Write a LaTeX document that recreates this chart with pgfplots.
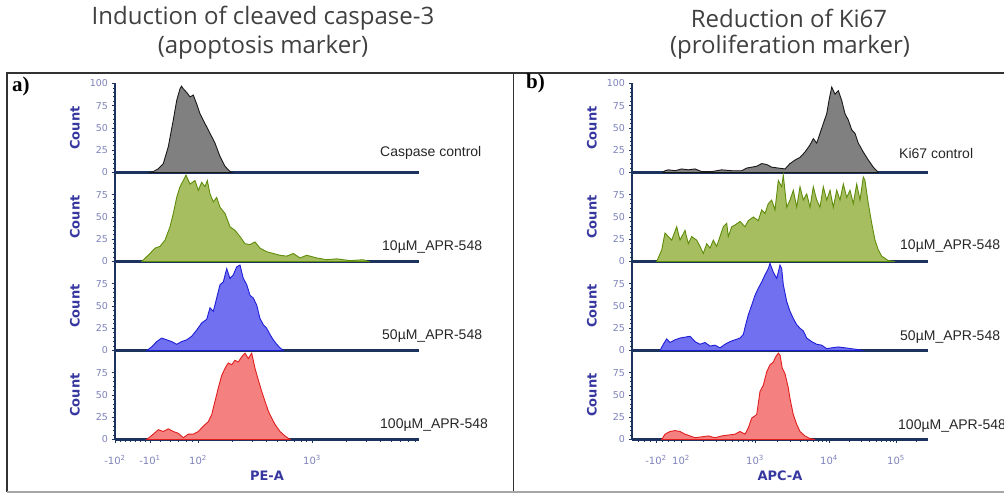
\documentclass[border=0pt]{standalone}
\usepackage{pgfplots}
\pgfplotsset{compat=1.18}
\usepackage{fontspec}
\setmainfont{Liberation Sans}
\newfontfamily\titlefont{Open Sans}
\newfontfamily\axfont{DejaVu Sans}
\newfontfamily\panelfont{Liberation Serif}
\definecolor{navy}{RGB}{28,50,95}
\definecolor{ticklab}{RGB}{125,130,185}
\definecolor{lab}{RGB}{55,55,160}
\definecolor{gfill}{RGB}{128,128,128}
\definecolor{gline}{RGB}{25,25,25}
\definecolor{grfill}{RGB}{166,190,96}
\definecolor{grline}{RGB}{95,140,10}
\definecolor{bfill}{RGB}{112,112,240}
\definecolor{bline}{RGB}{30,30,215}
\definecolor{rfill}{RGB}{245,128,128}
\definecolor{rline}{RGB}{225,30,30}
\definecolor{framec}{RGB}{50,50,50}
\pgfplotsset{
  hist/.style={
    scale only axis, height=89pt, ymin=0, ymax=100,
    axis x line*=bottom, axis y line*=left,
    axis line style={navy, line width=2.1pt},
    every tick/.style={navy, line width=0.7pt},
    tick align=outside,
    major tick length=3.5pt, minor tick length=2pt,
    ytick={0,25,50,75}, minor y tick num=4,
    yticklabel style={font=\axfont\fontsize{9.5}{10}\selectfont, text=ticklab},
    xticklabel style={font=\axfont\fontsize{10}{11}\selectfont, text=ticklab, yshift=-9pt},
    /pgf/number format/assume math mode=true,
    xtick=\empty,
    ylabel={Count},
    ylabel style={at={(axis description cs:0,0.5)}, anchor=center, rotate=0, yshift=40pt,
      font=\axfont\bfseries\fontsize{13}{14}\selectfont, text=lab},
    xlabel style={at={(axis description cs:0.5,0)}, anchor=center, yshift=-36.5pt,
      font=\axfont\bfseries\fontsize{13}{14}\selectfont, text=lab},
  },
  pa/.style={hist, width=304pt, xmin=115, xmax=419},
  pb/.style={hist, width=296pt, xmin=632, xmax=928},
}
\begin{document}
\begin{tikzpicture}[x=1pt,y=1pt]
\useasboundingbox (0,0) rectangle (1004,493);
% frame
\draw[framec, line width=2pt] (6.5,1.5) -- (6.5,420) -- (1004,420);
\draw[framec, line width=1.6pt] (513.5,1.5) -- (513.5,420);
\draw[black!35, line width=1.5pt] (6.5,1.2) -- (1004,1.2);
% titles
\node[font=\titlefont\fontsize{24}{26}\selectfont, text=black!75] at (263,475) {Induction of cleaved caspase-3};
\node[font=\titlefont\fontsize{24}{26}\selectfont, text=black!75] at (263,445.5) {(apoptosis marker)};
\node[font=\titlefont\fontsize{24}{26}\selectfont, text=black!75] at (789,475) {Reduction of Ki67};
\node[font=\titlefont\fontsize{24}{26}\selectfont, text=black!75] at (790,445.5) {(proliferation marker)};
\node[font=\panelfont\bfseries\fontsize{21}{22}\selectfont, anchor=west, inner sep=0pt] at (12,407) {a)};
\node[font=\panelfont\bfseries\fontsize{21}{22}\selectfont, anchor=west, inner sep=0pt] at (526,410) {b)};

% ===== panel a =====
\begin{axis}[pa, at={(115pt,320.5pt)}, anchor=south west, ytick={0,25,50,75,100}]
\addplot[fill=gfill, draw=gline, line width=0.9pt] coordinates {
(150,0) (153.3,1) (158,4) (163.3,10) (168.3,29) (173.3,59) (176.7,81) (180,94) (181.5,97) (183.3,94) (186.7,90) (190,85) (193.3,87)
(196.7,77) (200,66) (205,55) (210,44) (215,33) (220,18) (225,7) (230,1) (232,0)} \closedcycle;
\end{axis}
\begin{axis}[pa, at={(115pt,231.5pt)}, anchor=south west]
\addplot[fill=grfill, draw=grline, line width=0.9pt] coordinates {
(141.7,0) (150,9) (155,15) (160,17) (165,24) (170,39) (173.3,54) (176.7,72) (180,84) (183.3,91) (186,97) (190,87)
(195,91) (198.3,80) (201.7,89) (205,84) (207.3,91) (210,76) (213.3,67) (216.7,72) (220,61) (225,54) (230,39)
(235,35) (240,28) (245,20) (250,19) (255,22) (260,15) (266.7,11) (273.3,9) (280,7) (286.7,6) (293.3,9) (300,4)
(306.7,7) (316.7,4) (326.7,2) (336.7,3) (350,1) (363.3,2) (368.3,0)} \closedcycle;
\end{axis}
\begin{axis}[pa, at={(115pt,142.5pt)}, anchor=south west]
\addplot[fill=bfill, draw=bline, line width=0.9pt] coordinates {
(146.7,0) (151.7,4) (156.7,10) (161.7,14) (166.7,12) (171.7,10) (176.7,7) (181.7,10) (186.7,12) (191.7,16)
(196.7,23) (201.7,31) (206.7,35) (210,48) (213.3,44) (216.7,59) (220,74) (223.3,77) (226.7,92) (230,81)
(233.3,85) (236.7,94) (240,96) (243.3,81) (246.7,74) (250,62) (253.3,59) (256.7,51) (260,36) (263.3,29)
(266.7,25) (270,18) (273.3,12) (276.7,7) (280,3) (283.3,0)} \closedcycle;
\end{axis}
\begin{axis}[pa, at={(115pt,53.5pt)}, anchor=south west, xlabel={PE-A},
  xtick={115,150,198,312},
  xticklabels={{-10\textsuperscript{2}},{-10\textsuperscript{1}},{10\textsuperscript{2}},{10\textsuperscript{3}}},
  minor xtick={120,125,130,135,140,145,160,170,178,186,192,232.3,252.4,266.6,277.7,286.7,294.3,300.9,306.8,346.3,366.4,380.6,391.7,400.7,408.3,414.9}]
\addplot[fill=rfill, draw=rline, line width=0.9pt] coordinates {
(146.7,0) (153.3,6) (158.3,11) (163.3,9) (168.3,12) (173.3,9) (178.3,7) (183.3,2) (188.3,6) (193.3,6) (198.3,9)
(203.3,15) (208.3,20) (211.7,28) (215,43) (218.3,58) (221.7,72) (225,80) (228.3,86) (231.7,84) (235,89)
(238.3,87) (241.7,93) (245,97) (248.3,91) (251.7,97) (255,80) (258.3,67) (261.7,54) (265,43) (268.3,32)
(271.7,24) (275,17) (280,9) (285,4) (290,0)} \closedcycle;
\end{axis}

% ===== panel b =====
\begin{axis}[pb, at={(632pt,320.5pt)}, anchor=south west, ytick={0,25,50,75,100}]
\addplot[fill=gfill, draw=gline, line width=0.9pt] coordinates {
(663,0) (665,2) (668.3,3) (675,2) (681.7,4) (688.3,3) (695,4) (701.7,1) (711.7,1) (721.7,3) (731.7,2) (741.7,2)
(746.7,5) (751.7,6) (756.7,7) (761.7,10) (766.7,9) (771.7,6) (778.3,5) (785,4) (790,10) (795,14) (800,17)
(805,23) (810,31) (813.3,38) (816.7,33) (820,44) (823.3,55) (826.7,66) (829,81) (831.7,96) (835,88) (838.3,92)
(841.7,81) (845,66) (848.3,59) (851.7,48) (855,44) (858.3,33) (863.3,23) (868.3,14) (873.3,6) (878.3,0)} \closedcycle;
\end{axis}
\begin{axis}[pb, at={(632pt,231.5pt)}, anchor=south west]
\addplot[fill=grfill, draw=grline, line width=0.9pt] coordinates {
(656.7,0) (661.7,13) (665,32) (668.3,28) (671.7,24) (676.7,39) (680,24) (685,35) (688.3,20) (691.7,28) (696.7,24)
(700,17) (703.3,9) (706.7,20) (710,15) (713.3,24) (716.7,17) (720,28) (723.3,39) (726.7,43) (728.3,28) (731.7,39)
(735,41) (740,45) (745,39) (748.3,46) (753.3,50) (758.3,46) (761.7,58) (765,54) (768.3,65) (771.7,69) (775,58)
(778.3,91) (781.7,84) (783.3,97) (786.7,61) (790,69) (793.3,80) (796.7,61) (800,84) (803.3,69) (806.7,76)
(810,61) (813.3,84) (816.7,69) (820,61) (823.3,84) (826.7,69) (830,80) (833.3,61) (836.7,80) (840,69) (843.3,87)
(846.7,72) (850,80) (853.3,65) (856.7,87) (860,69) (863.3,95) (865,91) (868.3,65) (871.7,43) (875,24) (878.3,13)
(881.7,6) (888.3,1) (895,0)} \closedcycle;
\end{axis}
\begin{axis}[pb, at={(632pt,142.5pt)}, anchor=south west]
\addplot[fill=bfill, draw=bline, line width=0.9pt] coordinates {
(660,0) (663.3,7) (666.7,13) (670,9) (675,12) (680,14) (685,15) (690,16) (695,10) (700,7) (705,9) (710,5) (715,6)
(720,3) (725,7) (730,10) (735,12) (740,14) (743.3,18) (745.7,29) (748.3,40) (751.7,51) (755,62) (758.3,70)
(761.7,77) (765,85) (768.3,92) (770,98) (773.3,88) (776.7,81) (780,96) (781.7,92) (783.3,74) (786.7,55) (790,44)
(793.3,36) (796.7,29) (800,25) (803.3,22) (806.7,14) (811.7,10) (816.7,7) (821.7,6) (826.7,2) (831.7,3) (838.3,4)
(845,3) (851.7,2) (858.3,1) (861.7,0)} \closedcycle;
\end{axis}
\begin{axis}[pb, at={(632pt,53.5pt)}, anchor=south west, xlabel={APC-A},
  xtick={656,681,755,829,896},
  xticklabels={{-10\textsuperscript{2}},{10\textsuperscript{2}},{10\textsuperscript{3}},{10\textsuperscript{4}},{10\textsuperscript{5}}},
  minor xtick={638,644,650,662,668,674,703,716,725,732,738,743,748,752,777,790,800,807,813,818,822,826,849,861,869,876,881,886,890,893,916}]
\addplot[fill=rfill, draw=rline, line width=0.9pt] coordinates {
(661.7,0) (665,6) (670,9) (675,10) (680,9) (685,6) (690,4) (695,2) (701.7,3) (708.3,4) (715,2) (721.7,4) (728.3,5)
(735,6) (740,9) (745,6) (748.3,13) (751.7,24) (756.7,28) (760,54) (763.3,61) (766.7,76) (770,84) (773.3,87)
(775.7,93) (778.3,97) (780,95) (782.3,80) (785,74) (788.3,58) (790,46) (793.3,28) (796.7,17) (800,9) (805,4)
(810,1) (815,0)} \closedcycle;
\end{axis}

% sample labels
\begin{scope}[every node/.style={anchor=west, font=\fontsize{14}{15}\selectfont, text=black!85, inner sep=0pt}]
\node at (380,340) {Caspase control};
\node at (382,246) {10µM\_APR-548};
\node at (382,157) {50µM\_APR-548};
\node at (380,68) {100µM\_APR-548};
\node at (899,340) {Ki67 control};
\node at (900,247) {10µM\_APR-548};
\node at (900,156) {50µM\_APR-548};
\node at (898,67) {100µM\_APR-548};
\end{scope}
\end{tikzpicture}
\end{document}
